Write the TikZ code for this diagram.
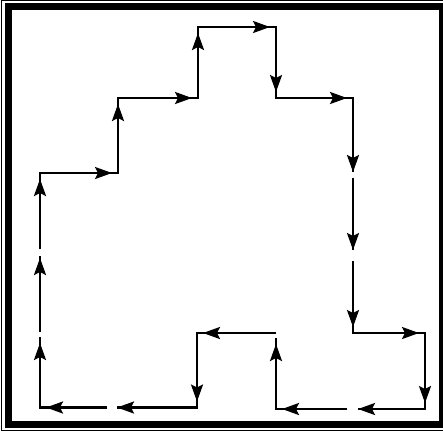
\documentclass[tikz,border=0pt]{standalone}
\usetikzlibrary{arrows.meta}
\tikzset{
  ln/.style={line width=2.3pt, line join=miter},
  tipshape/.style={-{Stealth[length=17pt,width=12pt,inset=3pt]}},
  arr/.style={line width=2.3pt, tipshape, shorten >=6pt},
  arrend/.style={line width=2.3pt, tipshape},
  framethick/.style={line width=7pt},
  framethin/.style={line width=1pt}
}
\begin{document}
\begin{tikzpicture}[x=1pt,y=-1pt]
\useasboundingbox (0,0) rectangle (443,432);
\clip (0,0) rectangle (443,432);
\fill[white] (0,0) rectangle (443,432);
% frame
\draw[framethin] (460,0.6) -- (1.7,0.6) -- (1.7,430.2) -- (460,430.2);
\draw[framethick] (460,6.5) -- (8.5,6.5) -- (8.5,424.5) -- (460,424.5);
\fill (439,3) rectangle (460,428);
% corner and gap points
\coordinate (A) at (40,407.5);
\coordinate (A1) at (40,337);
\coordinate (A2) at (40,332);
\coordinate (A3) at (40,256);
\coordinate (A4) at (40,249);
\coordinate (B) at (40,173);
\coordinate (C) at (118,173);
\coordinate (D) at (118,98);
\coordinate (E) at (198,98);
\coordinate (F) at (198,27);
\coordinate (G) at (276,27);
\coordinate (H) at (276,98);
\coordinate (I) at (353,98);
\coordinate (I1) at (353,172);
\coordinate (I2) at (353,178);
\coordinate (I3) at (353,250);
\coordinate (I4) at (353,261);
\coordinate (J) at (353,333);
\coordinate (K) at (425,333);
\coordinate (L) at (425,409);
\coordinate (L1) at (358,409);
\coordinate (L2) at (347,409);
\coordinate (M) at (276,409);
\coordinate (M1) at (276,338);
\coordinate (N) at (276,333);
\coordinate (O) at (197,333);
\coordinate (P) at (197,407.5);
\coordinate (P1) at (117,407.5);
\coordinate (P2) at (107,407.5);
% lines
\draw[ln] (A2) -- (A3);
\draw[ln] (A4) -- (B) -- (C) -- (D) -- (E) -- (F) -- (G) -- (H) -- (I) -- (I1);
\draw[ln] (I2) -- (I3);
\draw[ln] (I4) -- (J) -- (K) -- (L) -- (L1);
\draw[ln] (L2) -- (M) -- (M1);
\draw[ln] (N) -- (O) -- (P) -- (P1);
\draw[ln] (P2) -- (A) -- (A1);
% arrows
\draw[arr] (A) -- (A1);
\draw[arr, shorten >=2pt] (A2) -- (A3);
\draw[arr] (A4) -- (B);
\draw[arr] (B) -- (C);
\draw[arr] (C) -- (D);
\draw[arr] (D) -- (E);
\draw[arr] (E) -- (F);
\draw[arr] (F) -- (G);
\draw[arr] (G) -- (H);
\draw[arr] (H) -- (I);
\draw[arrend] (I) -- (I1);
\draw[arrend] (I2) -- (I3);
\draw[arr] (I4) -- (J);
\draw[arr] (J) -- (K);
\draw[arr] (K) -- (L);
\draw[arrend] (L) -- (L1);
\draw[arr] (L2) -- (M);
\draw[arr] (M) -- (M1);
\draw[arr] (N) -- (O);
\draw[arr] (O) -- (P);
\draw[arrend] (P) -- (P1);
\draw[arr] (P2) -- (A);
\end{tikzpicture}
\end{document}
